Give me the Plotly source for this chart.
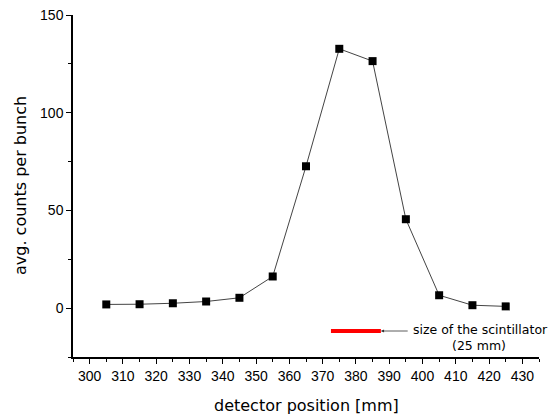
import plotly.graph_objects as go

positions = [305, 315, 325, 335, 345, 355, 365, 375, 385, 395, 405, 415, 425]
counts = [1.9, 2.0, 2.5, 3.4, 5.3, 16.2, 72.6, 132.7, 126.4, 45.5, 6.6, 1.5, 0.9]
scint_x = [372.5, 387.5]
scint_y = [-11.7, -11.7]

fig = go.Figure()
fig.add_trace(go.Scatter(x=positions, y=counts, mode="lines+markers",
                         line=dict(color="#444444", width=1),
                         marker=dict(symbol="square", size=8, color="black"),
                         showlegend=False))
fig.add_trace(go.Scatter(x=scint_x, y=scint_y, mode="lines",
                         line=dict(color="#ff0000", width=4), showlegend=False))

fig.add_annotation(x=387.5, y=-11.7, ax=396.0, ay=-11.7, axref="x", ayref="y",
                   xref="x", yref="y", text="", showarrow=True,
                   arrowhead=2, arrowsize=0.8, arrowwidth=0.8, arrowcolor="#333333")
fig.add_annotation(x=396.8, y=-11.0, xref="x", yref="y", text="size of the scintillator",
                   showarrow=False, xanchor="left", yanchor="middle", borderpad=0,
                   font=dict(family="DejaVu Sans", size=12.5, color="black"))
fig.add_annotation(x=417, y=-19.3, xref="x", yref="y", text="(25 mm)",
                   showarrow=False, xanchor="center", yanchor="middle", borderpad=0,
                   font=dict(family="DejaVu Sans", size=12.5, color="black"))

# axis titles
fig.add_annotation(x=0.5, y=0, xref="paper", yref="paper", yshift=-48,
                   text="detector position [mm]", showarrow=False,
                   xanchor="center", yanchor="middle",
                   font=dict(family="DejaVu Sans", size=16, color="black"))
fig.add_annotation(x=0, y=0.5, xref="paper", yref="paper", xshift=-53,
                   text="avg. counts per bunch", showarrow=False, textangle=-90,
                   xanchor="center", yanchor="middle",
                   font=dict(family="DejaVu Sans", size=16, color="black"))

fig.update_layout(
    width=556, height=416,
    margin=dict(l=73, r=17, t=15, b=59),
    paper_bgcolor="white", plot_bgcolor="white",
    xaxis=dict(range=[295, 435], dtick=10, tick0=300, showgrid=False, zeroline=False,
               automargin=False,
               showline=True, linecolor="black", linewidth=1.5,
               ticks="outside", ticklen=5, tickwidth=1, tickcolor="black",
               minor=dict(dtick=5, tick0=300, ticks="outside", ticklen=3, tickcolor="black"),
               tickfont=dict(family="Liberation Sans", size=14, color="black")),
    yaxis=dict(range=[-25, 150], dtick=50, tick0=0, showgrid=False, zeroline=False,
               automargin=False,
               showline=True, linecolor="black", linewidth=1.5,
               ticks="outside", ticklen=5, tickwidth=1, tickcolor="black",
               minor=dict(dtick=25, tick0=0, ticks="outside", ticklen=3, tickcolor="black"),
               tickfont=dict(family="Liberation Sans", size=14, color="black")),
)
fig.write_html("out.html")
